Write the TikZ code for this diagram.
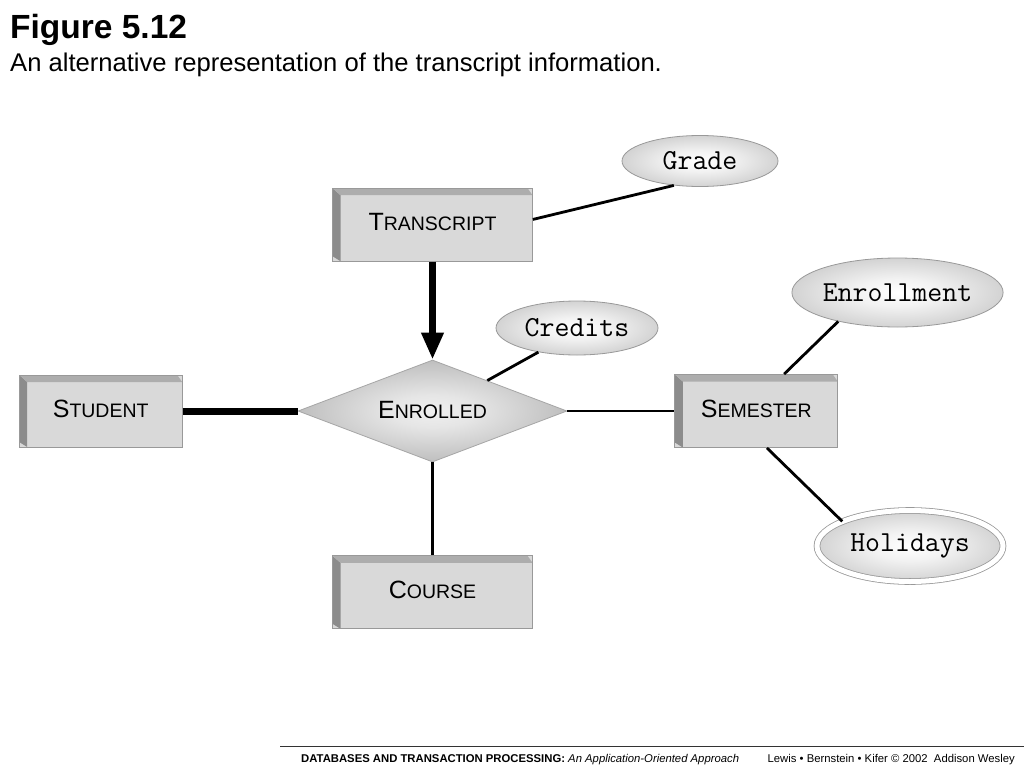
\documentclass[tikz,border=0pt]{standalone}
\usepackage{fontspec}
\setmainfont{Liberation Sans}
\usetikzlibrary{positioning,shapes.geometric,arrows.meta}

\newcommand{\smcap}[2]{{\fontsize{25}{25}\selectfont #1}{\fontsize{19.5}{19.5}\selectfont #2}}

\pgfdeclareradialshading{attrshade}{\pgfpoint{0bp}{0bp}}{color(0bp)=(white); color(10bp)=(white!95!black); color(50bp)=(black!38)}
\pgfdeclareradialshading{relshade}{\pgfpoint{0bp}{0bp}}{color(0bp)=(white!94!black); color(8bp)=(white!90!black); color(50bp)=(black!48)}

\tikzset{
  entity/.style={rectangle, fill=black!15, draw=black!40, line width=0.8pt,
    inner sep=0pt, minimum width=200pt, minimum height=73pt,
    text height=18pt, text depth=6pt,
    path picture={
      \fill[black!45] (path picture bounding box.north west)
        -- ([shift={(8pt,-7pt)}]path picture bounding box.north west)
        -- ([xshift=8pt]path picture bounding box.south west)
        -- ([yshift=5pt]path picture bounding box.south west) -- cycle;
      \fill[black!32] (path picture bounding box.north west)
        -- ([xshift=-5pt]path picture bounding box.north east)
        -- ([yshift=-7pt]path picture bounding box.north east)
        -- ([shift={(8pt,-7pt)}]path picture bounding box.north west) -- cycle;
    }},
  rel/.style={diamond, aspect=2.64, draw=black!35, line width=0.8pt, inner sep=0pt,
    shading=relshade, text height=18pt, text depth=4pt},
  attr/.style={ellipse, draw=black!40, line width=0.8pt, inner sep=0pt,
    shading=attrshade, font=\fontsize{29}{29}\selectfont\ttfamily},
  multiattr/.style={attr, double=white, double distance=5pt},
  link/.style={line width=2.8pt},
  heavy/.style={line width=7pt},
}

\begin{document}
\begin{tikzpicture}[x=1pt,y=-1pt]
  \useasboundingbox (0,0) rectangle (1024,768);
  \fill[white] (0,0) rectangle (1024,768);

  % title
  \node[anchor=base west, inner sep=0pt, font=\fontsize{33.5}{33.5}\selectfont\bfseries] (title) at (10,38) {Figure 5.12};
  \node[anchor=base west, inner sep=0pt, font=\fontsize{25.6}{25.6}\selectfont] (subtitle) at (10,71) {An alternative representation of the transcript information.};

  % entities and relationship
  \node[rel, minimum width=269pt, minimum height=102pt] (enrolled) at (432.5,411) {\smcap{E}{NROLLED}};
  \node[entity, above=98pt of enrolled] (transcript) {\smcap{T}{RANSCRIPT}};
  \node[entity, minimum width=163pt, minimum height=72pt, left=115pt of enrolled] (student) {\smcap{S}{TUDENT}};
  \node[entity, minimum width=163pt, right=107pt of enrolled] (semester) {\smcap{S}{EMESTER}};
  \node[entity, below=93pt of enrolled] (course) {\smcap{C}{OURSE}};

  % attributes
  \node[attr, minimum width=156pt, minimum height=51pt] (grade) at (700,161) {Grade};
  \node[attr, minimum width=162pt, minimum height=54pt] (credits) at (577,328) {Credits};
  \node[attr, minimum width=209pt, minimum height=69pt] (enrollment) at (897.5,292.5) {Enrollment};
  \node[multiattr, minimum width=186pt, minimum height=71pt] (holidays) at (910,546) {Holidays};

  % connectors
  \draw[link] (transcript.3) -- (grade.223);
  \draw[link] (credits.212) -- (enrolled);
  \draw[heavy] (student.east) -- (enrolled.west);
  \draw[link] (enrolled.east) -- (semester.west);
  \draw[link] (enrolled.south) -- (course.north);
  \draw[link] (semester.53) -- (enrollment.206);
  \draw[link] (semester.286) -- (holidays.160);
  \draw[line width=7pt, -{Triangle[length=27pt,width=21pt]}] (transcript.south) -- (enrolled.north);

  % footer
  \coordinate (rulel) at (280,746);
  \coordinate (ruler) at (1024,746);
  \draw[line width=1pt, black!80] (rulel) -- (ruler);
  \node[anchor=base west, inner sep=0pt, font=\fontsize{11.3}{11.3}\selectfont] (footl) at (301,762)
    {\textbf{DATABASES AND TRANSACTION PROCESSING:} \textit{An Application-Oriented Approach}};
  \node[anchor=base east, inner sep=0pt, font=\fontsize{11.3}{11.3}\selectfont] (footr) at (1015,762)
    {Lewis • Bernstein • Kifer © 2002\ \ Addison Wesley};
\end{tikzpicture}
\end{document}
